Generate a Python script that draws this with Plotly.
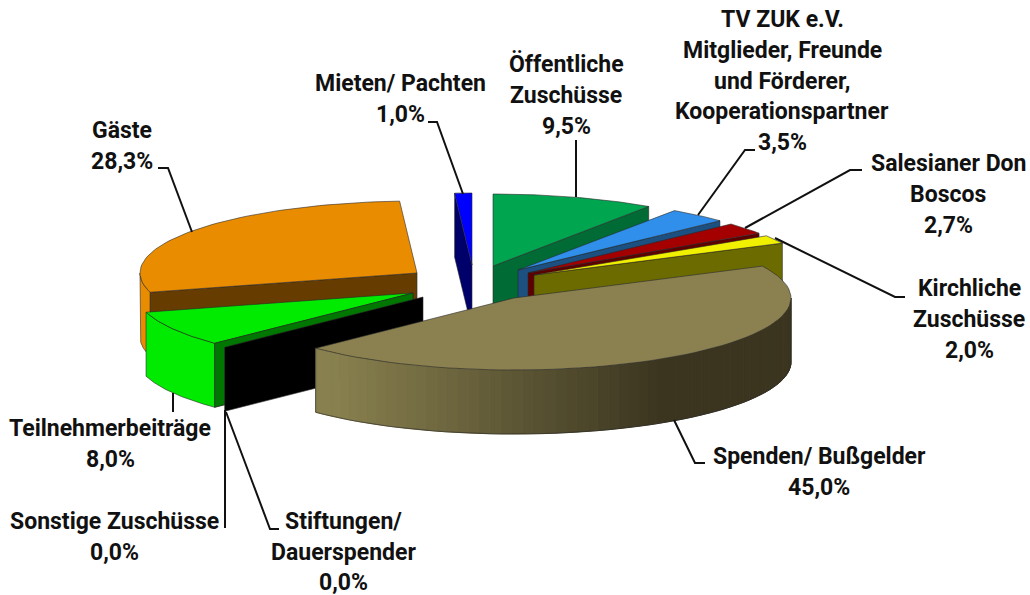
import math
import plotly.graph_objects as go

# --- data -------------------------------------------------------------
categories = ["Öffentliche Zuschüsse", "TV ZUK e.V. Mitglieder, Freunde und Förderer, Kooperationspartner",
              "Salesianer Don Boscos", "Kirchliche Zuschüsse", "Spenden/ Bußgelder",
              "Stiftungen/ Dauerspender", "Sonstige Zuschüsse", "Teilnehmerbeiträge", "Gäste", "Mieten/ Pachten"]
values = [9.5, 3.5, 2.7, 2.0, 45.0, 0.0, 0.0, 8.0, 28.3, 1.0]
top_colors = ["#00A550", "#2F8FEB", "#A50000", "#F0F000", "#8B8050",
              "#000000", "#007700", "#00EB00", "#EA8C00", "#0000FF"]
face_colors = ["#006B34", "#1C5080", "#5F0000", "#6B6B00", "#8B8050",
               "#000000", "#007700", "#007700", "#663C00", "#00006B"]
wall_colors = ["#006B34", "#1C5080", "#5F0000", "#6B6B00", None,
               "#000000", "#007700", "#00EB00", "#EA8C00", "#00006B"]
# apex of every exploded slice on the 1030x595 canvas axes
apex_x = [493, 518, 528, 534, 514, 423, 413, 413, 417, 472]
apex_y = [266, 270, 273, 275, 298, 297, 293, 293, 273, 265]
draw_order = [8, 9, 0, 1, 2, 3, 7, 6, 5, 4]

label_lines = [
    ("Mieten/ Pachten", 400, 83), ("1,0%", 400, 114),
    ("Öffentliche", 566, 64), ("Zuschüsse", 566, 95), ("9,5%", 566, 126),
    ("TV ZUK e.V.", 782, 19), ("Mitglieder, Freunde", 782, 50), ("und Förderer,", 782, 81),
    ("Kooperationspartner", 782, 111), ("3,5%", 782, 142),
    ("Salesianer Don", 948, 163), ("Boscos", 948, 194), ("2,7%", 948, 225),
    ("Kirchliche", 969, 288), ("Zuschüsse", 969, 319), ("2,0%", 969, 350),
    ("Spenden/ Bußgelder", 819, 456), ("45,0%", 819, 487),
    ("Teilnehmerbeiträge", 110, 428), ("8,0%", 110, 459),
    ("Sonstige Zuschüsse", 114, 521), ("0,0%", 114, 552),
    ("Stiftungen/", 343, 521), ("Dauerspender", 343, 552), ("0,0%", 343, 582),
    ("Gäste", 122, 130), ("28,3%", 122, 161),
]
leaders = [
    ([158, 168, 192], [168, 168, 232]),
    ([428, 437, 463], [122, 122, 194]),
    ([576, 576], [140, 197]),
    ([755, 745, 698], [150, 150, 215]),
    ([862, 850, 745], [170, 170, 228]),
    ([905, 895, 775], [297, 297, 238]),
    ([705, 695, 674], [463, 463, 420]),
    ([173, 173], [393, 412]),
    ([225, 225], [410, 528]),
    ([226, 270, 279], [412, 529, 529]),
]

RX, RY, H = 277, 72, 64
EDGE = "rgba(40,40,40,0.85)"
fig = go.Figure()


def poly(xs, ys, fill, edge=EDGE, w=0.7):
    fig.add_trace(go.Scatter(
        x=xs + xs[:1], y=ys + ys[:1], mode="lines", fill="toself", fillcolor=fill,
        line=dict(color=edge if edge else fill, width=w), hoverinfo="skip", showlegend=False))


def arc(cx, cy, t0, t1, n=60):
    ts = [t0 + (t1 - t0) * i / n for i in range(n + 1)]
    return ([cx + RX * math.sin(t) for t in ts], [cy - RY * math.cos(t) for t in ts])


def mix(c0, c1, f):
    a = [int(c0[i:i + 2], 16) for i in (1, 3, 5)]
    b = [int(c1[i:i + 2], 16) for i in (1, 3, 5)]
    return "#" + "".join(f"{round(p + (q - p) * f):02x}" for p, q in zip(a, b))


# cumulative angles, clockwise from 12 o'clock
starts, acc = [], 0.0
total = sum(values)
for v in values:
    starts.append(acc)
    acc += v / total * 2 * math.pi

for i in draw_order:
    cx, cy = apex_x[i], apex_y[i]
    t0 = starts[i]
    t1 = t0 + values[i] / total * 2 * math.pi
    # cut faces that look towards the viewer
    for t, visible in ((t0, math.sin(t0) < 0), (t1, math.sin(t1) > 0)):
        if visible and (values[i] > 0 or t == t0):
            ex, ey = cx + RX * math.sin(t), cy - RY * math.cos(t)
            poly([cx, ex, ex, cx], [cy, ey, ey + H, cy + H], face_colors[i])
    if values[i] == 0:
        continue
    # outer wall: only the arc in the front half is visible
    w0, w1 = max(t0, math.pi / 2), min(t1, 3 * math.pi / 2)
    if w1 > w0:
        xs, ys = arc(cx, cy, w0, w1)
        if wall_colors[i] is None:
            for k in range(len(xs) - 1):
                f = min(1.0, max(0.0, (xs[k] - 340) / (665 - 340)))
                c = mix("#88804E", "#3B3520", f)
                poly([xs[k], xs[k + 1], xs[k + 1], xs[k]],
                     [ys[k], ys[k + 1], ys[k + 1] + H, ys[k] + H], c, edge=None, w=1)
            fig.add_trace(go.Scatter(
                x=xs[:1] + [xs[0]] + xs + [xs[-1]], y=[ys[0]] + [ys[0] + H] + [y + H for y in ys] + [ys[-1]],
                mode="lines", line=dict(color=EDGE, width=0.7), hoverinfo="skip", showlegend=False))
        else:
            poly(xs + xs[::-1], ys + [y + H for y in ys[::-1]], wall_colors[i])
    # top surface
    xs, ys = arc(cx, cy, t0, t1)
    poly([cx] + xs, [cy] + ys, top_colors[i])

for lx, ly in leaders:
    fig.add_trace(go.Scatter(x=lx, y=ly, mode="lines", line=dict(color="#111111", width=2),
                             hoverinfo="skip", showlegend=False))

for text, x, y in label_lines:
    fig.add_annotation(x=x, y=y, text=text, showarrow=False, xanchor="center", yanchor="middle",
                       font=dict(family="Roboto", size=23, color="#111111", weight="bold"))

fig.update_layout(
    width=1030, height=595, margin=dict(l=0, r=0, t=0, b=0),
    paper_bgcolor="white", plot_bgcolor="white", showlegend=False,
    xaxis=dict(range=[0, 1030], visible=False, fixedrange=True),
    yaxis=dict(range=[595, 0], visible=False, fixedrange=True),
)
fig.write_html("out.html", config={"displayModeBar": False},
               post_script="document.body.style.margin='0';document.body.style.overflow='hidden';")
